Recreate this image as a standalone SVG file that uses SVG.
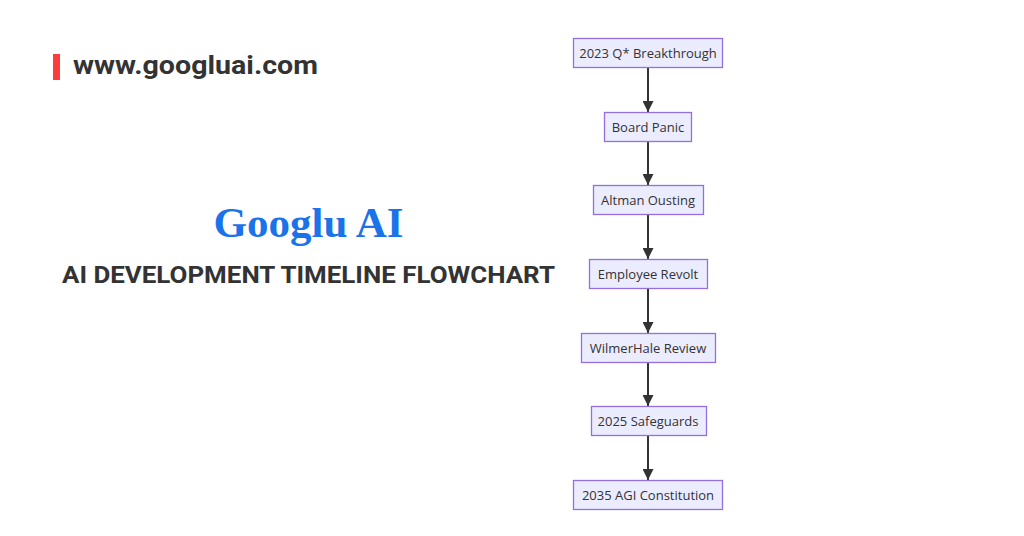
<svg xmlns="http://www.w3.org/2000/svg" width="1024" height="536" viewBox="0 0 1024 536">
<defs>
<style>
.node rect{fill:#ECECFF;stroke:#9370DB;stroke-width:1.3}
.node text{font-family:"Open Sans","DejaVu Sans",sans-serif;font-size:13px;fill:#333;text-anchor:middle;dominant-baseline:central}
.edge{stroke:#333;stroke-width:2;fill:none;marker-end:url(#arrow)}
</style>
<marker id="arrow" viewBox="0 0 10 10" refX="10" refY="5" markerUnits="userSpaceOnUse" markerWidth="11" markerHeight="11" orient="auto">
<path d="M0,0 L10,5 L0,10 z" fill="#333"/>
</marker>
</defs>
<rect width="1024" height="536" fill="#fff"/>
<g id="brand">
<rect x="53" y="54" width="7" height="26" fill="#FF3B3B"/>
<text x="73" y="74" font-family="Roboto, 'Liberation Sans', sans-serif" font-weight="bold" font-size="25" fill="#333" textLength="245" lengthAdjust="spacingAndGlyphs">www.googluai.com</text>
</g>
<g id="title">
<text x="308.5" y="237" text-anchor="middle" font-family="'Liberation Serif', serif" font-weight="bold" font-size="43" fill="#1A73E8">Googlu AI</text>
<text x="62" y="283" font-family="Roboto, 'Liberation Sans', sans-serif" font-weight="bold" font-size="23.5" fill="#333" textLength="493" lengthAdjust="spacingAndGlyphs">AI DEVELOPMENT TIMELINE FLOWCHART</text>
</g>
<g id="connectors">
<line class="edge" x1="648" y1="68" x2="648" y2="112"/>
<line class="edge" x1="648" y1="141" x2="648" y2="185"/>
<line class="edge" x1="648" y1="215" x2="648" y2="259"/>
<line class="edge" x1="648" y1="288" x2="648" y2="333"/>
<line class="edge" x1="648" y1="362" x2="648" y2="406"/>
<line class="edge" x1="648" y1="436" x2="648" y2="480"/>
</g>
<g id="n1" class="node"><rect x="573.5" y="38.5" width="149" height="29"/><text x="648" y="53">2023 Q* Breakthrough</text></g>
<g id="n2" class="node"><rect x="604.5" y="112.5" width="87" height="29"/><text x="648" y="127">Board Panic</text></g>
<g id="n3" class="node"><rect x="593.5" y="185.5" width="110" height="29"/><text x="648" y="200">Altman Ousting</text></g>
<g id="n4" class="node"><rect x="589.5" y="259.5" width="118" height="29"/><text x="648" y="274">Employee Revolt</text></g>
<g id="n5" class="node"><rect x="581.5" y="333.5" width="134" height="29"/><text x="648" y="348">WilmerHale Review</text></g>
<g id="n6" class="node"><rect x="591.5" y="406.5" width="115" height="29"/><text x="648" y="421">2025 Safeguards</text></g>
<g id="n7" class="node"><rect x="573.5" y="480.5" width="149" height="29"/><text x="648" y="495">2035 AGI Constitution</text></g>
</svg>
